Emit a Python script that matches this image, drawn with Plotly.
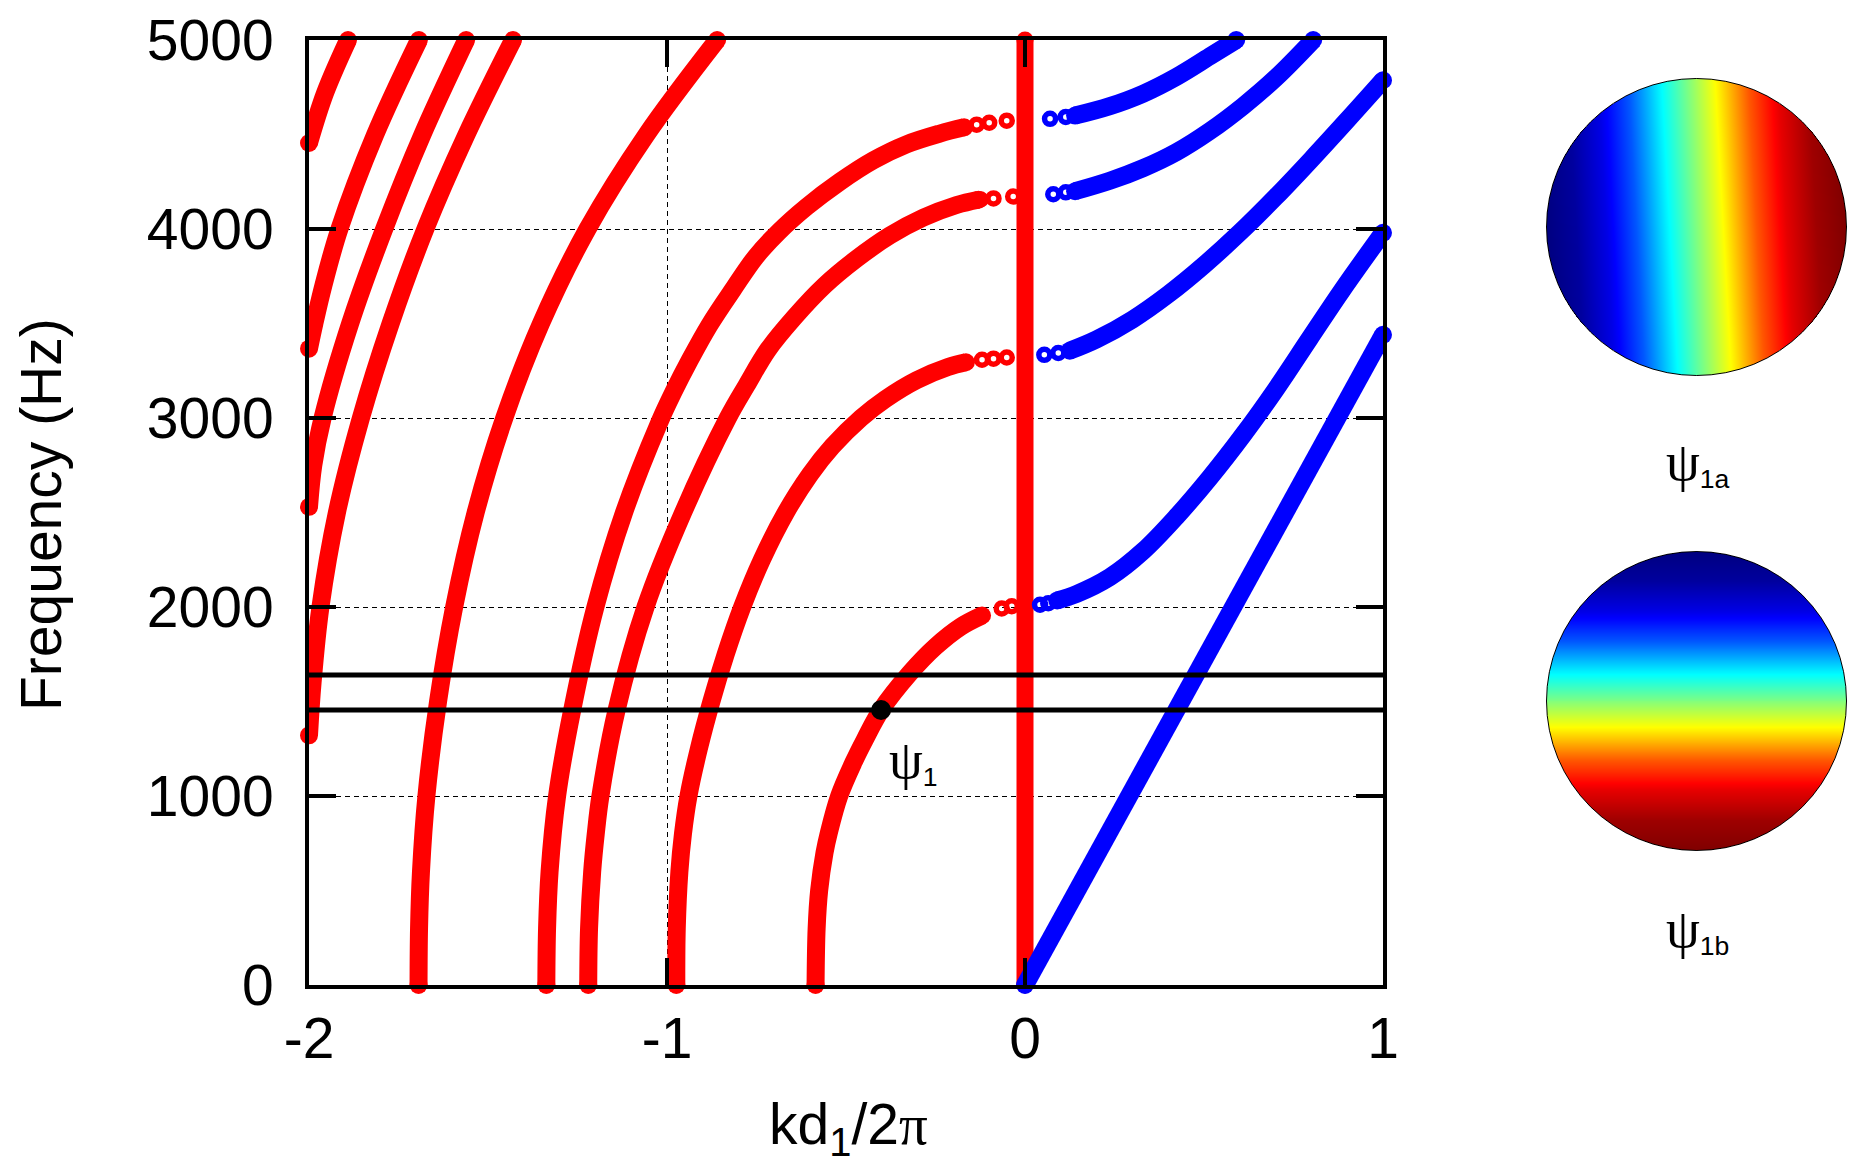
"""
dispersion branches of the periodic waveguide, with the two resonator mode pictures
"""
import numpy as np
import plotly.graph_objects as go

OFF = 8  # page margin of the html body
W, H = 1865 - OFF, 1173 - OFF

# red branches (kd1/2pi, Hz)
red_d_k = [-2.0, -1.955, -1.891]
red_d_f = [4455, 4720, 5000]
red_c_k = [-2.0, -1.985, -1.96, -1.915, -1.815, -1.693]
red_c_f = [3367, 3500, 3700, 4000, 4500, 5000]
red_a_k = [-2.0, -1.988, -1.962, -1.885, -1.79, -1.683, -1.561]
red_a_f = [2530, 2750, 3000, 3500, 4000, 4500, 5000]
red_b_k = [-2.0, -1.99, -1.968, -1.922, -1.855, -1.772, -1.675, -1.56, -1.43]
red_b_f = [1321, 1600, 2000, 2500, 3000, 3500, 4000, 4500, 5000]
red_m_k = [-1.694, -1.6926, -1.6872, -1.672, -1.6395, -1.5945, -1.5345, -1.4545, -1.352, -1.222, -1.057, -0.86]
red_m_f = [0, 300, 600, 1000, 1500, 2000, 2500, 3000, 3500, 4000, 4500, 5000]

red_u1_k = [-1.337, -1.335, -1.328, -1.307, -1.265, -1.2, -1.12, -1.02, -0.983, -0.937,
            -0.881, -0.815, -0.752, -0.688, -0.61, -0.517, -0.424, -0.331, -0.238, -0.17]
red_u1_f = [0, 300, 600, 1000, 1453, 2000, 2500, 2983, 3134, 3304,
            3493, 3682, 3853, 3985, 4117, 4250, 4363, 4448, 4505, 4538]
red_u2_k = [-1.22, -1.2177, -1.209, -1.199, -1.186, -1.141, -1.06, -0.955, -0.83, -0.778, -0.718,
            -0.645, -0.56, -0.47, -0.377, -0.284, -0.191, -0.13]
red_u2_f = [0, 300, 600, 800, 1000, 1453, 2000, 2500, 3000, 3172, 3361,
            3531, 3701, 3843, 3966, 4060, 4127, 4155]
red_u3_k = [-0.974, -0.9727, -0.9654, -0.9554, -0.94, -0.911, -0.876, -0.836, -0.79, -0.735,
            -0.668, -0.601, -0.538, -0.458, -0.39, -0.303, -0.215, -0.165]
red_u3_f = [0, 300, 600, 800, 1000, 1250, 1500, 1750, 2000, 2250,
            2500, 2700, 2850, 3000, 3100, 3200, 3270, 3295]
red_u4_k = [-0.585, -0.582, -0.575, -0.56, -0.548, -0.519, -0.478, -0.447, -0.402,
            -0.321, -0.25, -0.18, -0.12]
red_u4_f = [0, 300, 500, 700, 805, 1000, 1182, 1300, 1455, 1651, 1790, 1895, 1955]

red_zero_k = [0.0, 0.0]
red_zero_f = [0, 5000]

# sparse points close to k=0 (drawn as open rings)
red_ring_k = [-0.135, -0.10, -0.051, -0.124, -0.088, -0.033, -0.12, -0.088, -0.051, -0.065, -0.037]
red_ring_f = [4552, 4562, 4573, 4156, 4162, 4172, 3308, 3314, 3320, 1992, 2004]

# blue branches
blue_s_k = [0.0, 1.0]
blue_s_f = [0, 3440]
blue_d_k = [0.09, 0.144, 0.237, 0.33, 0.423, 0.516, 0.609, 0.702, 0.795, 0.888, 1.0]
blue_d_f = [2035, 2069, 2158, 2296, 2478, 2684, 2910, 3156, 3420, 3682, 3980]
blue_g_k = [0.125, 0.2, 0.3, 0.4, 0.5, 0.6, 0.7, 0.8, 0.9, 1.0]
blue_g_f = [3356, 3416, 3521, 3654, 3809, 3981, 4169, 4369, 4576, 4787]
blue_b_k = [0.14, 0.237, 0.33, 0.423, 0.516, 0.609, 0.702, 0.805]
blue_b_f = [4200, 4255, 4322, 4407, 4518, 4650, 4802, 5000]
blue_a_k = [0.14, 0.237, 0.33, 0.423, 0.516, 0.59]
blue_a_f = [4600, 4650, 4716, 4805, 4913, 5000]

blue_ring_k = [0.070, 0.114, 0.042, 0.065, 0.054, 0.093, 0.079, 0.114]
blue_ring_f = [4583, 4593, 2012, 2020, 3334, 3344, 4184, 4194]

band_lines_f = [1455, 1640]
psi1_k = [-0.402]
psi1_f = [1455]

k_range = [-2, 1]
f_range = [0, 5000]
k_ticks = [-2, -1, 0, 1]
k_ticktext = ["-2", "-1", "0", "1"]
f_ticks = [0, 1000, 2000, 3000, 4000, 5000]

# field profile across the disc (0 = edge on the low side, 1 = other edge)
prof_pos = [0.0, 0.1, 0.2, 0.3, 0.4, 0.5, 0.6, 0.7, 0.8, 0.9, 1.0]
prof_val = [0.0, 0.03, 0.10, 0.21, 0.36, 0.50, 0.64, 0.79, 0.90, 0.97, 1.0]
tilt_a = 0.055  # contours of psi_1a lean slightly to the right going down

jet = [[0, "#000080"], [0.125, "#0000ff"], [0.375, "#00ffff"],
       [0.625, "#ffff00"], [0.875, "#ff0000"], [1, "#800000"]]

RED = "#ff0000"
BLUE = "#0000ff"
FONT = "Liberation Sans"


def px_dom(a, b, total, flip=False):
    a, b = a - OFF, b - OFF
    if flip:
        return [1 - b / total, 1 - a / total]
    return [a / total, b / total]


def px_x(p):
    return (p - OFF) / W


def px_y(p):
    return 1 - (p - OFF) / H


fig = go.Figure()


def branch(k, f, color, width=18):
    fig.add_trace(go.Scatter(x=k, y=f, mode="lines",
                             line=dict(color=color, width=width, shape="spline", smoothing=1.0),
                             hoverinfo="skip", showlegend=False))
    fig.add_trace(go.Scatter(x=[k[0], k[-1]], y=[f[0], f[-1]], mode="markers",
                             marker=dict(color=color, size=width),
                             cliponaxis=False, hoverinfo="skip", showlegend=False))


for k, f in [(red_d_k, red_d_f), (red_c_k, red_c_f), (red_a_k, red_a_f), (red_b_k, red_b_f),
             (red_m_k, red_m_f), (red_u1_k, red_u1_f), (red_u2_k, red_u2_f),
             (red_u3_k, red_u3_f), (red_u4_k, red_u4_f)]:
    branch(k, f, RED)
branch(red_zero_k, red_zero_f, RED, 17)

for k, f in [(blue_s_k, blue_s_f), (blue_d_k, blue_d_f), (blue_g_k, blue_g_f),
             (blue_b_k, blue_b_f), (blue_a_k, blue_a_f)]:
    branch(k, f, BLUE)

fig.add_trace(go.Scatter(x=red_ring_k, y=red_ring_f, mode="markers",
                         marker=dict(symbol="circle-open", size=11, color=RED,
                                     line=dict(width=5.5, color=RED)),
                         hoverinfo="skip", showlegend=False))
fig.add_trace(go.Scatter(x=blue_ring_k, y=blue_ring_f, mode="markers",
                         marker=dict(symbol="circle-open", size=11, color=BLUE,
                                     line=dict(width=5.5, color=BLUE)),
                         hoverinfo="skip", showlegend=False))

for fl in band_lines_f:
    fig.add_trace(go.Scatter(x=k_range, y=[fl, fl], mode="lines",
                             line=dict(color="black", width=5),
                             hoverinfo="skip", showlegend=False))

fig.add_trace(go.Scatter(x=psi1_k, y=psi1_f, mode="markers",
                         marker=dict(color="black", size=20),
                         hoverinfo="skip", showlegend=False))

# the two mode pictures
n = 301
g = np.linspace(-1, 1, n)
gx, gy = np.meshgrid(g, g)
outside = gx ** 2 + gy ** 2 > 1
u = (gx + 1) / 2
v = (1 - gy) / 2
za = np.interp(u - tilt_a * (v - 0.5), prof_pos, prof_val)
zb = np.interp(v, prof_pos, prof_val)
za[outside] = np.nan
zb[outside] = np.nan

fig.add_trace(go.Heatmap(x=g, y=g, z=za, colorscale=jet, zmin=0, zmax=1, showscale=False,
                         hoverinfo="skip", xaxis="x2", yaxis="y2"))
fig.add_trace(go.Heatmap(x=g, y=g, z=zb, colorscale=jet, zmin=0, zmax=1, showscale=False,
                         hoverinfo="skip", xaxis="x3", yaxis="y3"))

axis_common = dict(showline=True, linewidth=4, linecolor="black", mirror="ticks",
                   ticks="inside", ticklen=27, tickwidth=4, tickcolor="black",
                   showgrid=True, gridcolor="black", gridwidth=1, griddash="5px,4px",
                   zeroline=False, automargin=False, ticklabeloverflow="allow",
                   tickfont=dict(family=FONT, size=57, color="black"))

hidden = dict(visible=False, range=[-1.01, 1.01], fixedrange=True, automargin=False)

fig.update_layout(
    width=W, height=H, autosize=False,
    margin=dict(l=0, r=0, t=0, b=0, pad=0),
    paper_bgcolor="white", plot_bgcolor="white",
    xaxis=dict(domain=px_dom(309, 1383, W), range=k_range, tickvals=k_ticks,
               ticktext=k_ticktext, ticklabelstandoff=1, **axis_common),
    yaxis=dict(domain=px_dom(40, 985, H, flip=True), range=f_range, tickvals=f_ticks,
               ticklabelstandoff=20, **axis_common),
    xaxis2=dict(domain=px_dom(1545, 1848, W), anchor="y2", **hidden),
    yaxis2=dict(domain=px_dom(77, 377, H, flip=True), anchor="x2", **hidden),
    xaxis3=dict(domain=px_dom(1545, 1848, W), anchor="y3", **hidden),
    yaxis3=dict(domain=px_dom(550, 852, H, flip=True), anchor="x3", **hidden),
    shapes=[
        dict(type="circle", xref="x2", yref="y2", x0=-1, x1=1, y0=-1, y1=1,
             line=dict(color="black", width=1)),
        dict(type="circle", xref="x3", yref="y3", x0=-1, x1=1, y0=-1, y1=1,
             line=dict(color="black", width=1)),
    ],
)

psi = '<span style="font-family:Liberation Serif;font-size:54px">ψ</span>'
pi = '<span style="font-family:Liberation Serif">π</span>'

fig.add_annotation(x=-0.385, y=1183, xref="x", yref="y", xanchor="left", yanchor="middle",
                   text=psi + "<sub>1</sub>", showarrow=False,
                   font=dict(family=FONT, size=38, color="black"))
fig.add_annotation(x=px_x(1664), y=px_y(463), xref="paper", yref="paper",
                   xanchor="left", yanchor="middle", text=psi + "<sub>1a</sub>",
                   showarrow=False, font=dict(family=FONT, size=38, color="black"))
fig.add_annotation(x=px_x(1664), y=px_y(930), xref="paper", yref="paper",
                   xanchor="left", yanchor="middle", text=psi + "<sub>1b</sub>",
                   showarrow=False, font=dict(family=FONT, size=38, color="black"))

fig.add_annotation(x=px_x(41), y=px_y(515), xref="paper", yref="paper",
                   xanchor="center", yanchor="middle", textangle=-90,
                   text="Frequency (Hz)", showarrow=False,
                   font=dict(family=FONT, size=57, color="black"))
fig.add_annotation(x=px_x(848), y=px_y(1128), xref="paper", yref="paper",
                   xanchor="center", yanchor="middle",
                   text="kd<sub>1</sub>/2" + pi, showarrow=False,
                   font=dict(family=FONT, size=57, color="black"))

fig.write_html("out.html")
